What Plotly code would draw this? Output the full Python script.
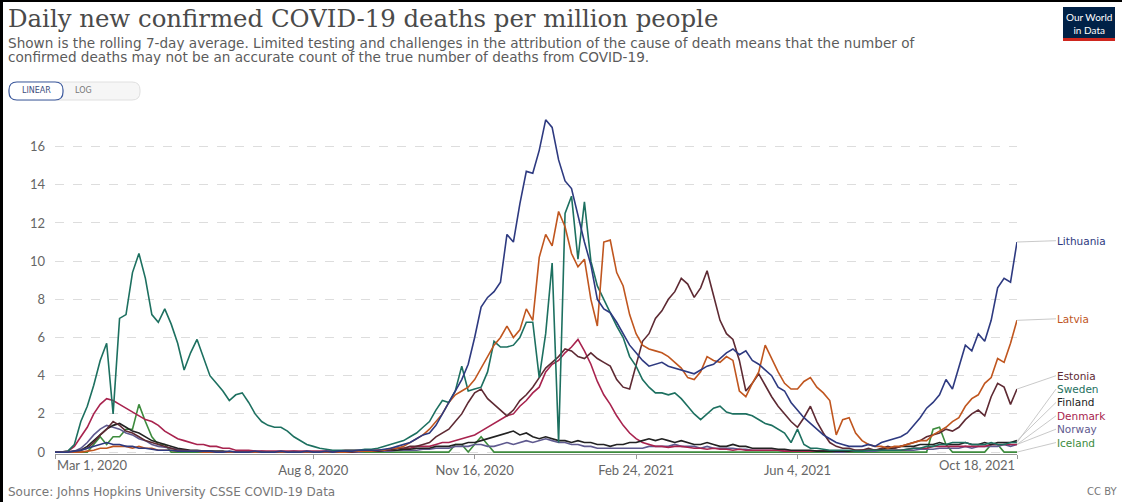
import plotly.graph_objects as go
import pandas as pd

# ---------------- data (7-day rolling avg, deaths per million, every 4 days) ----------------
start_date = "2020-03-01"
n_points = 150
dates = pd.date_range(start_date, periods=n_points, freq="4D")

lithuania = [
    0, 0, 0, 0.05, 0.1, 0.2, 0.3, 0.4, 0.5, 0.4,
    0.4, 0.3, 0.3, 0.2, 0.2, 0.15, 0.1, 0.1, 0.1, 0.05,
    0.05, 0.05, 0.05, 0.05, 0.05, 0, 0, 0.05, 0, 0,
    0, 0.05, 0, 0, 0, 0.05, 0, 0, 0, 0.05,
    0, 0, 0.05, 0, 0.05, 0.05, 0.05, 0.1, 0.1, 0.1,
    0.1, 0.15, 0.2, 0.3, 0.4, 0.5, 0.7, 0.9, 1.0, 1.4,
    2.0, 2.6, 3.2, 3.8, 4.6, 6.0, 7.6, 8.1, 8.4, 8.9,
    11.4, 11.0, 13.0, 14.7, 14.6, 15.8, 17.4, 17.0, 15.3, 14.2,
    13.8, 12.4, 11.0, 9.8, 8.0, 7.5, 7.3, 6.8, 6.2, 5.6,
    5.2, 4.8, 4.5, 4.6, 4.7, 4.5, 4.4, 4.3, 4.2, 4.1,
    4.3, 4.5, 4.6, 4.9, 5.2, 5.4, 5.1, 5.3, 4.8, 4.6,
    4.3, 4.0, 3.4, 3.2, 2.6, 2.2, 1.8, 1.5, 1.2, 0.9,
    0.7, 0.5, 0.4, 0.3, 0.3, 0.3, 0.4, 0.3, 0.5, 0.6,
    0.7, 0.8, 1.0, 1.4, 1.8, 2.3, 2.6, 3.0, 3.8, 3.3,
    4.5, 5.6, 5.3, 6.2, 5.8, 6.9, 8.6, 9.1, 8.9, 11.0,
]
latvia = [
    0, 0, 0, 0, 0, 0.05, 0.1, 0.2, 0.2, 0.3,
    0.3, 0.3, 0.2, 0.3, 0.2, 0.2, 0.1, 0.1, 0.1, 0.05,
    0.05, 0.05, 0.05, 0, 0, 0, 0, 0, 0, 0,
    0, 0, 0, 0, 0, 0, 0, 0, 0, 0,
    0, 0, 0, 0, 0, 0, 0.05, 0.05, 0.05, 0.05,
    0.1, 0.1, 0.2, 0.2, 0.3, 0.5, 0.7, 0.9, 1.2, 1.6,
    2.0, 2.6, 3.0, 3.2, 3.4, 3.8, 4.4, 5.0, 5.6, 6.0,
    6.6, 6.0, 6.4, 7.5, 6.9, 10.2, 11.4, 10.8, 12.6, 11.8,
    10.4, 9.7, 10.1, 8.0, 6.6, 11.0, 11.1, 9.4, 8.7, 7.2,
    6.2, 5.6, 5.4, 5.3, 5.2, 5.0, 4.7, 4.4, 3.9, 3.8,
    4.2, 5.0, 4.8, 4.7, 5.0, 4.8, 3.2, 2.9, 3.6, 4.2,
    5.6, 4.9, 4.2, 3.6, 3.3, 3.3, 3.7, 3.9, 3.4, 3.1,
    2.7, 0.9, 1.7, 1.8, 1.0, 0.6, 0.4, 0.3, 0.3, 0.2,
    0.3, 0.3, 0.4, 0.5, 0.6, 0.6, 0.9, 1.1, 1.3, 1.6,
    1.8, 2.4, 2.8, 3.0, 3.6, 3.9, 4.9, 4.7, 5.7, 6.9,
]
estonia = [
    0, 0, 0, 0.05, 0.1, 0.2, 0.5, 0.9, 1.2, 1.6,
    1.4, 1.1, 1.0, 0.8, 0.6, 0.5, 0.4, 0.3, 0.2, 0.1,
    0.1, 0.05, 0.05, 0.05, 0, 0, 0, 0, 0, 0,
    0, 0, 0, 0, 0, 0, 0, 0, 0, 0,
    0, 0, 0, 0, 0, 0, 0, 0.05, 0.05, 0.05,
    0.05, 0.1, 0.1, 0.2, 0.2, 0.3, 0.3, 0.4, 0.5, 0.8,
    1.0, 1.2, 1.6, 2.0, 2.6, 3.1, 3.3, 2.8, 2.5, 2.2,
    1.9, 2.2, 2.7, 3.0, 3.4, 3.9, 4.4, 4.7, 5.0, 5.4,
    5.3, 5.0, 4.9, 5.2, 4.9, 4.7, 4.5, 3.8, 3.4, 3.3,
    4.5, 5.8, 6.2, 7.0, 7.4, 8.0, 8.4, 9.1, 8.8, 8.1,
    8.6, 9.5, 8.2, 6.9, 6.2, 5.9, 4.8, 3.2, 3.6, 4.1,
    3.5, 2.9, 2.4, 2.0, 1.6, 1.3, 1.8, 2.4, 1.6, 1.0,
    0.5, 0.3, 0.2, 0.2, 0.1, 0.1, 0.2, 0.1, 0.2, 0.3,
    0.2, 0.3, 0.4, 0.5, 0.6, 0.8, 0.9, 1.0, 1.2, 1.1,
    1.3, 1.7, 2.0, 2.2, 1.9, 2.9, 3.6, 3.4, 2.5, 3.3,
]
sweden = [
    0, 0, 0.05, 0.4, 1.6, 2.4, 3.5, 4.8, 5.7, 2.0,
    7.0, 7.2, 9.4, 10.4, 9.1, 7.2, 6.8, 7.5, 6.7, 5.7,
    4.3, 5.2, 5.9, 5.0, 4.0, 3.6, 3.2, 2.7, 3.0, 3.1,
    2.6, 2.0, 1.6, 1.4, 1.3, 1.3, 1.1, 0.8, 0.6, 0.4,
    0.3, 0.2, 0.15, 0.1, 0.1, 0.1, 0.1, 0.1, 0.15, 0.15,
    0.2, 0.3, 0.4, 0.5, 0.6, 0.8, 1.0, 1.3, 1.6, 2.2,
    2.7, 2.6, 3.2, 4.5, 3.2, 3.3, 3.4, 4.2, 5.8, 5.5,
    5.5, 5.6, 6.0, 6.8, 6.8, 3.9, 6.2, 9.9, 0.5, 12.5,
    13.4, 10.1, 13.1, 10.0, 8.7, 8.0, 7.3, 6.6, 6.0, 5.0,
    4.5, 3.8, 3.4, 3.1, 3.1, 3.0, 3.1, 2.8, 2.4, 2.0,
    1.7, 2.0, 2.3, 2.4, 2.1, 2.0, 2.0, 2.0, 1.9, 1.7,
    1.5, 1.4, 1.2, 1.0, 0.5, 1.2, 0.4, 0.2, 0.2, 0.15,
    0.1, 0.1, 0.1, 0.1, 0.05, 0.05, 0.1, 0.1, 0.1, 0.1,
    0.1, 0.1, 0.15, 0.2, 0.2, 0.3, 0.3, 0.4, 0.4, 0.5,
    0.5, 0.5, 0.4, 0.4, 0.4, 0.5, 0.4, 0.4, 0.5, 0.5,
]
finland = [
    0, 0, 0, 0, 0.1, 0.3, 0.6, 0.9, 1.2, 1.4,
    1.5, 1.3, 1.1, 1.0, 0.8, 0.6, 0.5, 0.4, 0.3, 0.2,
    0.15, 0.1, 0.1, 0.05, 0.05, 0.05, 0.05, 0, 0, 0,
    0, 0, 0, 0, 0, 0, 0, 0, 0, 0,
    0, 0, 0, 0, 0, 0, 0.05, 0.05, 0.05, 0.05,
    0.05, 0.1, 0.1, 0.1, 0.15, 0.15, 0.2, 0.2, 0.2, 0.3,
    0.3, 0.3, 0.4, 0.4, 0.5, 0.5, 0.6, 0.7, 0.8, 0.9,
    1.0, 1.1, 0.9, 1.0, 0.8, 0.7, 0.8, 0.7, 0.6, 0.6,
    0.5, 0.6, 0.5, 0.5, 0.4, 0.4, 0.3, 0.4, 0.4, 0.5,
    0.5, 0.6, 0.7, 0.6, 0.7, 0.6, 0.5, 0.6, 0.5, 0.4,
    0.4, 0.5, 0.4, 0.3, 0.3, 0.4, 0.3, 0.3, 0.2, 0.2,
    0.2, 0.2, 0.15, 0.15, 0.1, 0.1, 0.1, 0.1, 0.05, 0.05,
    0.05, 0.05, 0.05, 0.05, 0.1, 0.1, 0.1, 0.1, 0.15, 0.2,
    0.2, 0.3, 0.3, 0.3, 0.4, 0.4, 0.4, 0.5, 0.4, 0.4,
    0.4, 0.5, 0.4, 0.4, 0.5, 0.4, 0.5, 0.5, 0.5, 0.6,
]
denmark = [
    0, 0, 0.05, 0.3, 0.8, 1.3, 2.0, 2.5, 2.8, 2.7,
    2.5, 2.3, 2.1, 1.9, 1.7, 1.6, 1.4, 1.1, 0.9, 0.7,
    0.6, 0.5, 0.4, 0.4, 0.3, 0.3, 0.2, 0.2, 0.1, 0.1,
    0.1, 0.05, 0.05, 0.05, 0.05, 0.05, 0.05, 0.05, 0.05, 0.05,
    0.05, 0.05, 0.05, 0.05, 0.05, 0.1, 0.1, 0.1, 0.1, 0.1,
    0.1, 0.1, 0.1, 0.2, 0.2, 0.2, 0.3, 0.3, 0.3, 0.4,
    0.5, 0.5, 0.6, 0.7, 0.8, 0.9, 1.1, 1.3, 1.5, 1.7,
    1.9, 2.0, 2.4, 2.7, 3.1, 3.4, 4.2, 4.6, 4.8, 5.2,
    5.5, 5.9, 5.3, 4.6, 3.7, 3.0, 2.5, 1.9, 1.4, 1.0,
    0.7, 0.5, 0.4, 0.3, 0.3, 0.25, 0.3, 0.3, 0.25, 0.2,
    0.2, 0.15, 0.2, 0.15, 0.15, 0.1, 0.15, 0.1, 0.1, 0.1,
    0.1, 0.1, 0.1, 0.05, 0.05, 0.05, 0.05, 0.05, 0.05, 0.05,
    0.05, 0.05, 0.05, 0.05, 0.05, 0.1, 0.1, 0.1, 0.1, 0.1,
    0.1, 0.1, 0.15, 0.2, 0.2, 0.2, 0.3, 0.3, 0.3, 0.3,
    0.3, 0.3, 0.3, 0.3, 0.3, 0.4, 0.4, 0.4, 0.4, 0.4,
]
norway = [
    0, 0, 0, 0.05, 0.2, 0.5, 0.9, 1.2, 1.4, 1.3,
    1.2, 1.0, 0.9, 0.7, 0.6, 0.4, 0.3, 0.25, 0.2, 0.15,
    0.1, 0.05, 0.05, 0.05, 0.05, 0, 0, 0, 0, 0,
    0, 0, 0.05, 0, 0, 0, 0, 0.05, 0, 0,
    0, 0, 0, 0.05, 0, 0, 0, 0, 0.05, 0.05,
    0.05, 0.05, 0.05, 0.1, 0.1, 0.1, 0.1, 0.15, 0.15, 0.2,
    0.2, 0.2, 0.3, 0.3, 0.3, 0.4, 0.4, 0.3, 0.3, 0.4,
    0.5, 0.4, 0.5, 0.6, 0.5, 0.6, 0.7, 0.6, 0.5, 0.5,
    0.4, 0.4, 0.3, 0.3, 0.2, 0.2, 0.2, 0.2, 0.2, 0.2,
    0.2, 0.2, 0.3, 0.3, 0.3, 0.3, 0.4, 0.3, 0.3, 0.3,
    0.2, 0.3, 0.2, 0.2, 0.2, 0.2, 0.15, 0.15, 0.1, 0.1,
    0.1, 0.1, 0.1, 0.05, 0.05, 0.05, 0.05, 0.05, 0.05, 0.05,
    0.05, 0, 0, 0.05, 0.05, 0.05, 0.05, 0.05, 0.1, 0.1,
    0.1, 0.1, 0.1, 0.1, 0.15, 0.15, 0.15, 0.2, 0.2, 0.2,
    0.2, 0.3, 0.2, 0.3, 0.3, 0.3, 0.3, 0.4, 0.3, 0.4,
]
iceland = [
    0, 0, 0, 0, 0, 0, 0.4, 0.8, 0.4, 0.8,
    0.8, 1.2, 1.2, 2.5, 1.6, 0.8, 0.4, 0.4, 0, 0,
    0, 0, 0, 0, 0, 0, 0, 0, 0, 0,
    0, 0, 0, 0, 0, 0, 0, 0, 0, 0,
    0, 0, 0, 0, 0, 0, 0, 0, 0, 0,
    0, 0, 0, 0, 0, 0, 0, 0, 0, 0,
    0, 0, 0.4, 0.4, 0, 0.4, 0.8, 0.4, 0, 0,
    0, 0, 0, 0, 0, 0, 0, 0, 0, 0,
    0, 0, 0, 0, 0, 0, 0, 0, 0, 0,
    0, 0, 0, 0, 0, 0, 0, 0, 0, 0,
    0, 0, 0, 0, 0, 0, 0, 0, 0, 0,
    0, 0, 0, 0, 0, 0, 0, 0, 0, 0,
    0, 0, 0, 0, 0, 0, 0, 0, 0, 0,
    0, 0, 0, 0, 0, 0, 1.2, 1.3, 0.4, 0,
    0, 0, 0, 0, 0, 0.4, 0.4, 0, 0, 0,
]

countries = ["Iceland", "Norway", "Denmark", "Finland", "Estonia", "Sweden", "Latvia", "Lithuania"]
series = {
    "Lithuania": lithuania, "Latvia": latvia, "Estonia": estonia, "Sweden": sweden,
    "Finland": finland, "Denmark": denmark, "Norway": norway, "Iceland": iceland,
}
colors = {
    "Lithuania": "#2e3a80", "Latvia": "#c0561f", "Estonia": "#5e2a33", "Sweden": "#1d7060",
    "Finland": "#222222", "Denmark": "#a8234e", "Norway": "#5f5a8f", "Iceland": "#3d8b3d",
}
# label y-positions (value units) for the end-of-line labels
label_y = {
    "Lithuania": 11.07, "Latvia": 6.98, "Estonia": 4.0, "Sweden": 3.3,
    "Finland": 2.6, "Denmark": 1.9, "Norway": 1.2, "Iceland": 0.5,
}

y_ticks = [0, 2, 4, 6, 8, 10, 12, 14, 16]
x_tick_dates = ["2020-03-01", "2020-08-08", "2020-11-16", "2021-02-24", "2021-06-04", "2021-10-18"]
x_tick_text = ["", "Aug 8, 2020", "Nov 16, 2020", "Feb 24, 2021", "Jun 4, 2021", ""]

title = "Daily new confirmed COVID-19 deaths per million people"
subtitle_1 = "Shown is the rolling 7-day average. Limited testing and challenges in the attribution of the cause of death means that the number of"
subtitle_2 = "confirmed deaths may not be an accurate count of the true number of deaths from COVID-19."
source = "Source: Johns Hopkins University CSSE COVID-19 Data"

# ---------------- figure ----------------
W, H = 1122, 502
ML, MR, MT, MB = 55, 105, 116, 48
PW, PH = W - ML - MR, H - MT - MB


def px(x):
    return (x - ML) / PW


def py(y):
    return (H - MB - y) / PH


def rounded_rect(x0, y0, x1, y1, r):
    X0, X1, Y0, Y1 = px(x0), px(x1), py(y0), py(y1)
    rx, ry = r / PW, r / PH
    return (f"M {X0+rx},{Y0} L {X1-rx},{Y0} Q {X1},{Y0} {X1},{Y0-ry} "
            f"L {X1},{Y1+ry} Q {X1},{Y1} {X1-rx},{Y1} L {X0+rx},{Y1} "
            f"Q {X0},{Y1} {X0},{Y1+ry} L {X0},{Y0-ry} Q {X0},{Y0} {X0+rx},{Y0} Z")


fig = go.Figure()
for c in countries:
    fig.add_trace(go.Scatter(
        x=dates, y=series[c], mode="lines", name=c,
        line=dict(color=colors[c], width=1.6),
        hovertemplate=c + ": %{y:.2f}<extra></extra>",
    ))

annotations = []
for c in countries:
    annotations.append(dict(
        x=dates[-1], y=series[c][-1], xref="x", yref="y",
        axref="pixel", ayref="y", ax=39, ay=label_y[c],
        text=c, showarrow=True, arrowhead=0, arrowwidth=0.8, arrowcolor="#bbbbbb",
        xanchor="left", yanchor="middle", borderpad=0,
        font=dict(family="DejaVu Sans", size=10.5, color=colors[c]),
    ))

# first / last date labels (aligned to plot edges)
annotations.append(dict(x=x_tick_dates[0], y=py(465), xref="x", yref="paper", text="Mar 1, 2020",
                        showarrow=False, xanchor="left", yanchor="middle",
                        font=dict(family="Lato", size=13, color="#666")))
annotations.append(dict(x=x_tick_dates[-1], y=py(465), xref="x", yref="paper", text="Oct 18, 2021",
                        showarrow=False, xanchor="right", yanchor="middle",
                        font=dict(family="Lato", size=13, color="#666")))

annotations += [
    dict(x=px(6), y=py(2), xref="paper", yref="paper", text=title, showarrow=False,
         xanchor="left", yanchor="top", font=dict(family="DejaVu Serif", size=24.4, color="#4a4a4a")),
    dict(x=px(6), y=py(43), xref="paper", yref="paper", text=subtitle_1, showarrow=False,
         xanchor="left", yanchor="middle",
         font=dict(family="DejaVu Sans", size=13.6, color="#5b5b5b")),
    dict(x=px(6), y=py(57), xref="paper", yref="paper", text=subtitle_2, showarrow=False,
         xanchor="left", yanchor="middle",
         font=dict(family="DejaVu Sans", size=13.6, color="#5b5b5b")),
    dict(x=px(6), y=py(492), xref="paper", yref="paper", text=source, showarrow=False,
         xanchor="left", yanchor="middle", font=dict(family="DejaVu Sans", size=12, color="#777")),
    dict(x=px(1119), y=py(492), xref="paper", yref="paper", text="CC BY", showarrow=False,
         xanchor="right", yanchor="middle", font=dict(family="DejaVu Sans", size=10, color="#777")),
    dict(x=px(1089), y=py(23), xref="paper", yref="paper", text="Our World<br>in Data", showarrow=False,
         xanchor="center", yanchor="middle", font=dict(family="Lato", size=10, color="white")),
    dict(x=px(36), y=py(91), xref="paper", yref="paper", text="LINEAR", showarrow=False,
         xanchor="center", yanchor="middle", font=dict(family="DejaVu Sans", size=8, color="#3d4e80")),
    dict(x=px(83), y=py(91), xref="paper", yref="paper", text="LOG", showarrow=False,
         xanchor="center", yanchor="middle", font=dict(family="DejaVu Sans", size=8, color="#777")),
]

shapes = [
    dict(type="path", xref="paper", yref="paper", path=rounded_rect(9, 82, 140, 100, 8),
         fillcolor="#f6f6f6", line=dict(color="#e0e0e0", width=1)),
    dict(type="path", xref="paper", yref="paper", path=rounded_rect(9, 82, 63, 100, 8),
         fillcolor="white", line=dict(color="#3d5a9e", width=1.2)),
    dict(type="rect", xref="paper", yref="paper", x0=px(1063), x1=px(1115), y0=py(41), y1=py(7),
         fillcolor="#002147", line=dict(width=0), layer="above"),
    dict(type="rect", xref="paper", yref="paper", x0=px(1063), x1=px(1115), y0=py(41), y1=py(38),
         fillcolor="#ce261e", line=dict(width=0), layer="above"),
    dict(type="line", xref="paper", yref="paper", x0=px(1.5), x1=px(1.5), y0=py(0), y1=py(H),
         line=dict(color="black", width=3)),
    dict(type="line", xref="paper", yref="paper", x0=px(0), x1=px(W), y0=py(1), y1=py(1),
         line=dict(color="black", width=2)),
]

fig.update_layout(
    width=W, height=H,
    margin=dict(l=ML, r=MR, t=MT, b=MB),
    paper_bgcolor="white", plot_bgcolor="white",
    showlegend=False,
    annotations=annotations,
    shapes=shapes,
    font=dict(family="Lato", color="#666"),
    xaxis=dict(
        type="date", range=[x_tick_dates[0], x_tick_dates[-1]],
        tickvals=x_tick_dates, ticktext=x_tick_text,
        ticks="outside", ticklen=4, tickcolor="#999",
        showline=True, linecolor="#999", linewidth=1,
        showgrid=False, zeroline=False,
        tickfont=dict(family="Lato", size=13, color="#666"),
    ),
    yaxis=dict(
        range=[-0.1, 17.6], tickvals=y_ticks,
        showgrid=True, gridcolor="#dddddd", griddash="dash", gridwidth=1,
        zeroline=False, showline=False, ticks="",
        ticklabelstandoff=9,
        tickfont=dict(family="Lato", size=13, color="#666"),
    ),
)

fig.write_html("out.html", config={"displayModeBar": False},
               post_script="document.body.style.margin='0px';")
